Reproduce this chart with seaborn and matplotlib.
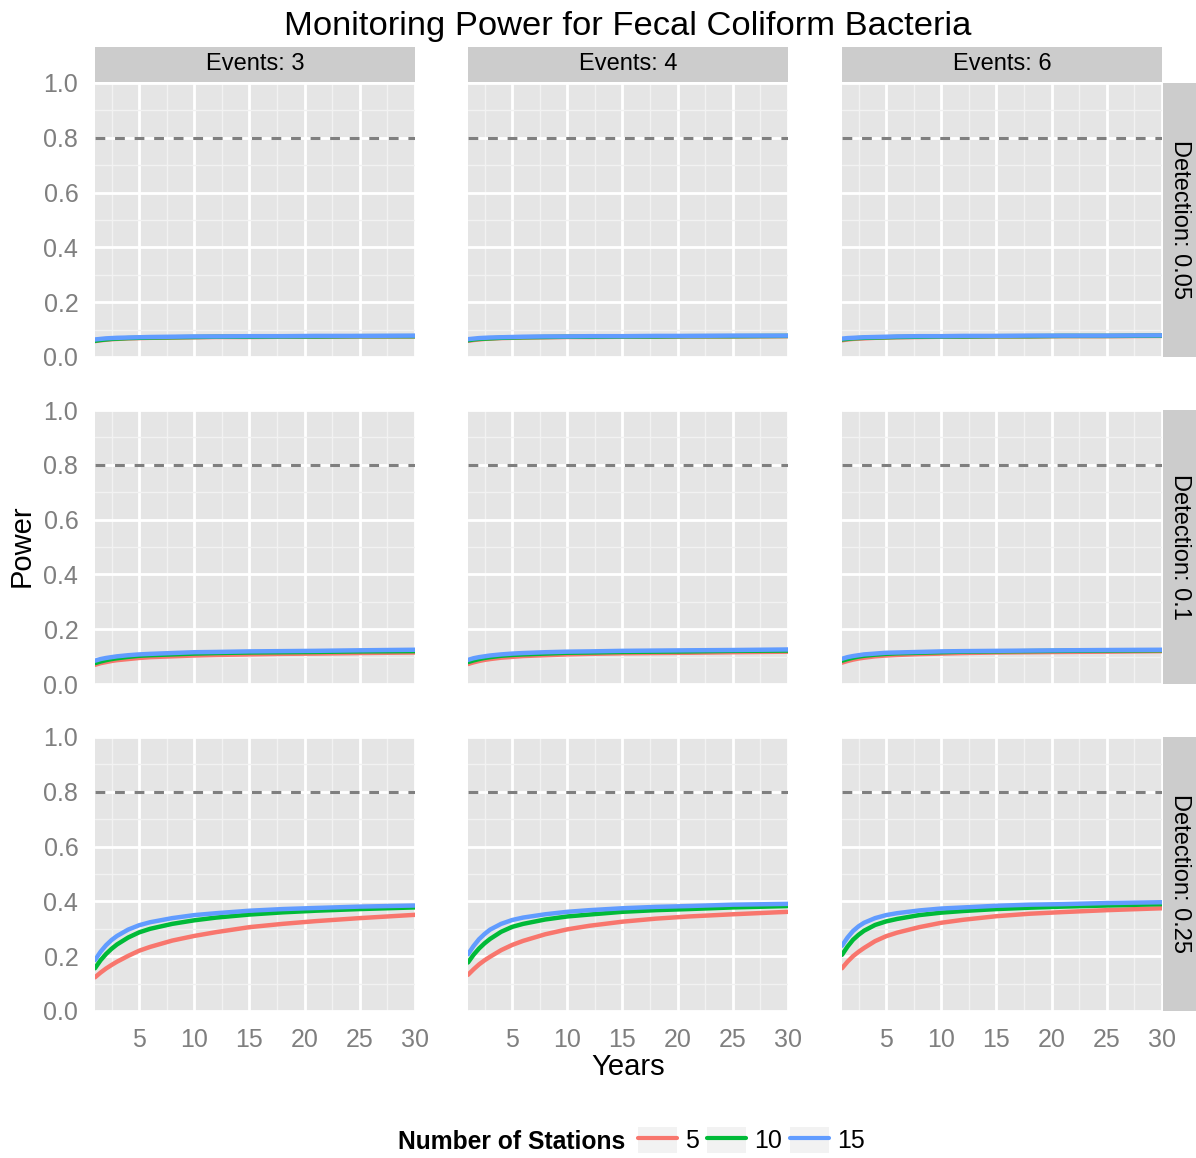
import matplotlib
matplotlib.use("Agg")
import matplotlib.pyplot as plt
from matplotlib.lines import Line2D
from matplotlib.patches import Patch
from matplotlib.legend_handler import HandlerTuple
import pandas as pd
import seaborn as sns

# ---- data -------------------------------------------------------------
years = [1, 1.5, 2, 2.5, 3, 4, 5, 6, 8, 10, 12, 15, 18, 21, 25, 30]
events = [3, 4, 6]
detections = [0.05, 0.1, 0.25]
stations = [5, 10, 15]
target_power = 0.8

# Detection 0.05
d005_e3_s5 = [0.058, 0.061, 0.063, 0.065, 0.066, 0.068, 0.069, 0.070, 0.071, 0.072, 0.073, 0.073, 0.074, 0.074, 0.075, 0.075]
d005_e3_s10 = [0.059, 0.062, 0.064, 0.066, 0.067, 0.069, 0.070, 0.071, 0.072, 0.073, 0.074, 0.074, 0.075, 0.075, 0.076, 0.076]
d005_e3_s15 = [0.064, 0.066, 0.068, 0.069, 0.070, 0.071, 0.072, 0.073, 0.074, 0.075, 0.075, 0.076, 0.076, 0.077, 0.077, 0.078]
d005_e4_s5 = [0.059, 0.062, 0.064, 0.066, 0.067, 0.069, 0.070, 0.071, 0.072, 0.073, 0.073, 0.074, 0.074, 0.075, 0.075, 0.076]
d005_e4_s10 = [0.061, 0.064, 0.066, 0.067, 0.068, 0.070, 0.071, 0.072, 0.073, 0.074, 0.074, 0.075, 0.075, 0.076, 0.076, 0.077]
d005_e4_s15 = [0.065, 0.067, 0.069, 0.070, 0.071, 0.072, 0.073, 0.074, 0.075, 0.075, 0.076, 0.076, 0.077, 0.077, 0.078, 0.078]
d005_e6_s5 = [0.061, 0.064, 0.066, 0.067, 0.068, 0.070, 0.071, 0.072, 0.073, 0.074, 0.074, 0.075, 0.075, 0.076, 0.076, 0.077]
d005_e6_s10 = [0.064, 0.066, 0.068, 0.069, 0.070, 0.071, 0.072, 0.073, 0.074, 0.075, 0.075, 0.076, 0.076, 0.077, 0.077, 0.078]
d005_e6_s15 = [0.067, 0.069, 0.070, 0.071, 0.072, 0.073, 0.074, 0.075, 0.076, 0.076, 0.077, 0.077, 0.078, 0.078, 0.078, 0.079]

# Detection 0.1
d010_e3_s5 = [0.070, 0.076, 0.080, 0.084, 0.087, 0.091, 0.095, 0.098, 0.101, 0.104, 0.106, 0.108, 0.110, 0.111, 0.113, 0.115]
d010_e3_s10 = [0.076, 0.082, 0.087, 0.091, 0.094, 0.099, 0.103, 0.105, 0.108, 0.111, 0.113, 0.115, 0.116, 0.117, 0.119, 0.120]
d010_e3_s15 = [0.085, 0.091, 0.095, 0.098, 0.101, 0.105, 0.108, 0.110, 0.113, 0.116, 0.117, 0.119, 0.120, 0.121, 0.123, 0.125]
d010_e4_s5 = [0.073, 0.079, 0.084, 0.088, 0.091, 0.096, 0.099, 0.102, 0.105, 0.108, 0.110, 0.112, 0.113, 0.114, 0.116, 0.118]
d010_e4_s10 = [0.080, 0.086, 0.091, 0.095, 0.098, 0.103, 0.106, 0.108, 0.111, 0.114, 0.115, 0.117, 0.118, 0.119, 0.121, 0.122]
d010_e4_s15 = [0.088, 0.094, 0.098, 0.101, 0.104, 0.108, 0.111, 0.113, 0.116, 0.118, 0.119, 0.121, 0.122, 0.123, 0.124, 0.126]
d010_e6_s5 = [0.078, 0.084, 0.089, 0.093, 0.096, 0.101, 0.104, 0.106, 0.109, 0.111, 0.113, 0.115, 0.116, 0.117, 0.118, 0.120]
d010_e6_s10 = [0.085, 0.091, 0.096, 0.100, 0.103, 0.107, 0.110, 0.112, 0.114, 0.116, 0.118, 0.119, 0.120, 0.121, 0.122, 0.123]
d010_e6_s15 = [0.092, 0.098, 0.102, 0.105, 0.108, 0.111, 0.114, 0.115, 0.117, 0.119, 0.120, 0.121, 0.122, 0.123, 0.124, 0.125]

# Detection 0.25
d025_e3_s5 = [0.123, 0.140, 0.155, 0.168, 0.180, 0.201, 0.220, 0.234, 0.257, 0.274, 0.288, 0.306, 0.318, 0.328, 0.339, 0.351]
d025_e3_s10 = [0.156, 0.185, 0.208, 0.227, 0.243, 0.268, 0.287, 0.300, 0.318, 0.331, 0.341, 0.352, 0.360, 0.366, 0.372, 0.378]
d025_e3_s15 = [0.186, 0.216, 0.240, 0.259, 0.274, 0.297, 0.313, 0.324, 0.339, 0.350, 0.357, 0.366, 0.372, 0.376, 0.381, 0.385]
d025_e4_s5 = [0.132, 0.152, 0.170, 0.185, 0.198, 0.222, 0.241, 0.256, 0.280, 0.298, 0.311, 0.326, 0.337, 0.345, 0.353, 0.362]
d025_e4_s10 = [0.177, 0.205, 0.228, 0.247, 0.263, 0.289, 0.307, 0.318, 0.334, 0.345, 0.352, 0.362, 0.368, 0.372, 0.378, 0.383]
d025_e4_s15 = [0.207, 0.237, 0.262, 0.281, 0.297, 0.318, 0.332, 0.341, 0.353, 0.362, 0.368, 0.375, 0.380, 0.383, 0.388, 0.391]
d025_e6_s5 = [0.156, 0.180, 0.200, 0.216, 0.230, 0.255, 0.273, 0.286, 0.306, 0.322, 0.333, 0.346, 0.355, 0.361, 0.368, 0.375]
d025_e6_s10 = [0.205, 0.235, 0.260, 0.278, 0.293, 0.314, 0.327, 0.336, 0.350, 0.359, 0.365, 0.372, 0.377, 0.381, 0.385, 0.390]
d025_e6_s15 = [0.238, 0.268, 0.292, 0.309, 0.322, 0.339, 0.350, 0.357, 0.367, 0.374, 0.378, 0.384, 0.388, 0.390, 0.394, 0.397]

series = {
    (0.05, 3): [d005_e3_s5, d005_e3_s10, d005_e3_s15],
    (0.05, 4): [d005_e4_s5, d005_e4_s10, d005_e4_s15],
    (0.05, 6): [d005_e6_s5, d005_e6_s10, d005_e6_s15],
    (0.1, 3): [d010_e3_s5, d010_e3_s10, d010_e3_s15],
    (0.1, 4): [d010_e4_s5, d010_e4_s10, d010_e4_s15],
    (0.1, 6): [d010_e6_s5, d010_e6_s10, d010_e6_s15],
    (0.25, 3): [d025_e3_s5, d025_e3_s10, d025_e3_s15],
    (0.25, 4): [d025_e4_s5, d025_e4_s10, d025_e4_s15],
    (0.25, 6): [d025_e6_s5, d025_e6_s10, d025_e6_s15],
}

rows = []
for (det, ev), vals in series.items():
    for n, ys in zip(stations, vals):
        for yr, p in zip(years, ys):
            rows.append({"Detection": det, "Events": ev, "Stations": n,
                         "Years": yr, "Power": p})
df = pd.DataFrame(rows)

# ---- style ------------------------------------------------------------
sns.set_style("white")
plt.rcParams["font.family"] = ["Liberation Sans", "DejaVu Sans"]
plt.rcParams["text.color"] = "black"

palette = {5: "#F8766D", 10: "#00BA38", 15: "#619CFF"}
panel_bg = "#E5E5E5"
minor_col = "#F2F2F2"
strip_bg = "#CCCCCC"
axis_grey = "#7F7F7F"

W, H = 1196, 1158
fig = plt.figure(figsize=(W / 100, H / 100), dpi=100)


def box(x0, y0, w, h):
    return [x0 / W, 1 - (y0 + h) / H, w / W, h / H]


col_left = [95, 468, 842]
row_top = [83, 410, 737]
pw, ph = 320, 274

for ri, det in enumerate(detections):
    for ci, ev in enumerate(events):
        ax = fig.add_axes(box(col_left[ci], row_top[ri], pw, ph))
        ax.set_facecolor(panel_bg)
        sub = df[(df["Detection"] == det) & (df["Events"] == ev)]
        ax.axhline(target_power, color=axis_grey, lw=2.2,
                   dashes=(3.2, 3.2), zorder=2)
        sns.lineplot(data=sub, x="Years", y="Power", hue="Stations",
                     palette=palette, linewidth=3.2, legend=False, ax=ax,
                     zorder=3)
        ax.set_xlim(1, 30)
        ax.set_ylim(0, 1)
        ax.set_xticks([5, 10, 15, 20, 25, 30])
        ax.set_xticks([2.5, 7.5, 12.5, 17.5, 22.5, 27.5], minor=True)
        ax.set_yticks([0, 0.2, 0.4, 0.6, 0.8, 1.0])
        ax.set_yticks([0.1, 0.3, 0.5, 0.7, 0.9], minor=True)
        ax.grid(which="major", color="white", lw=2.0, zorder=1)
        ax.grid(which="minor", color=minor_col, lw=1.0, zorder=0.5)
        ax.set_axisbelow(True)
        for s in ax.spines.values():
            s.set_visible(False)
        ax.set_xlabel("")
        ax.set_ylabel("")
        ax.tick_params(which="minor", length=0)
        ax.tick_params(which="major", colors=axis_grey, length=8, width=2,
                       labelsize=18, pad=4, labelcolor=axis_grey)
        ax.set_yticklabels(["0.0", "0.2", "0.4", "0.6", "0.8", "1.0"])
        if ci != 0:
            ax.tick_params(axis="y", left=False, labelleft=False)
        if ri != len(detections) - 1:
            ax.tick_params(axis="x", bottom=False, labelbottom=False)

# column strips
for ci, ev in enumerate(events):
    sax = fig.add_axes(box(col_left[ci], 47, pw, 35))
    sax.set_facecolor(strip_bg)
    sax.set_xticks([]); sax.set_yticks([])
    for s in sax.spines.values():
        s.set_visible(False)
    sax.text(0.5, 0.5, f"Events: {ev}", ha="center", va="center",
             fontsize=17, color="black", transform=sax.transAxes)

# row strips
for ri, det in enumerate(detections):
    sax = fig.add_axes(box(1163, row_top[ri], 33, ph))
    sax.set_facecolor(strip_bg)
    sax.set_xticks([]); sax.set_yticks([])
    for s in sax.spines.values():
        s.set_visible(False)
    sax.text(0.5, 0.5, f"Detection: {det:g}", ha="center", va="center",
             rotation=270, fontsize=17, color="black",
             transform=sax.transAxes)

fig.text(628 / W, 1 - 26 / H, "Monitoring Power for Fecal Coliform Bacteria",
         ha="center", va="center", fontsize=24.8)
fig.text(22 / W, 1 - 546 / H, "Power", ha="center", va="center",
         rotation=90, fontsize=21)
fig.text(628 / W, 1 - 1067 / H, "Years", ha="center", va="center",
         fontsize=21)

# legend
fig.text(625 / W, 1 - 1142 / H, "Number of Stations", ha="right",
         va="center", fontsize=17.7, fontweight="bold")
handles = [(Patch(facecolor=minor_col, edgecolor="none"),
            Line2D([], [], color=palette[n], lw=3)) for n in stations]
fig.legend(handles, [str(n) for n in stations],
           handler_map={tuple: HandlerTuple(ndivide=1, pad=0)},
           loc="center left", bbox_to_anchor=(638 / W, 1 - 1140 / H),
           ncol=3, frameon=False, fontsize=18, handlelength=1.55,
           handleheight=1.2, handletextpad=0.35, columnspacing=0.3,
           borderpad=0, borderaxespad=0, labelcolor="black")

fig.savefig("out.png", dpi=100)
